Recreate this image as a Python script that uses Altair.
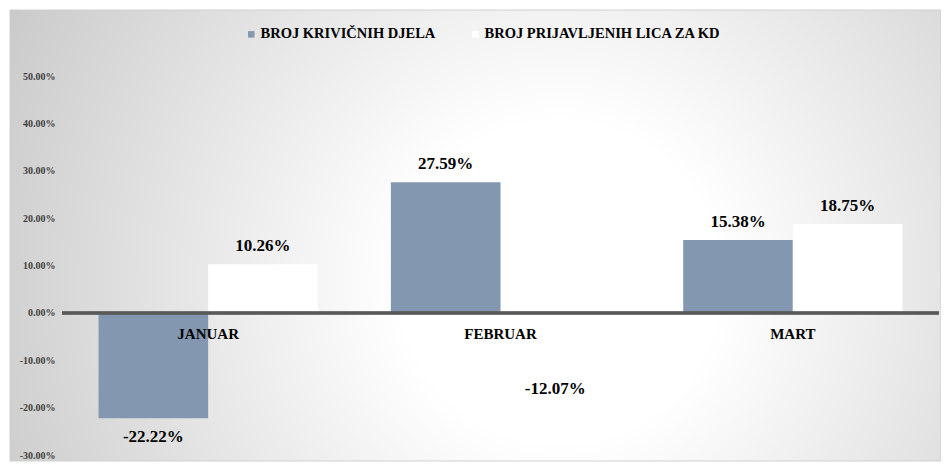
import altair as alt
import pandas as pd

months = ["JANUAR", "FEBRUAR", "MART"]
series_names = ["BROJ KRIVIČNIH DJELA", "BROJ PRIJAVLJENIH LICA ZA KD"]
krivicna_djela = [-0.2222, 0.2759, 0.1538]
prijavljeni = [0.1026, -0.1207, 0.1875]
y_ticks = [-0.3, -0.2, -0.1, 0.0, 0.1, 0.2, 0.3, 0.4, 0.5]

rows = []
for i, m in enumerate(months):
    rows.append({"mjesec": m, "serija": series_names[0], "vrijednost": krivicna_djela[i]})
    rows.append({"mjesec": m, "serija": series_names[1], "vrijednost": prijavljeni[i]})
df = pd.DataFrame(rows)

FONT = "'Liberation Serif', 'DejaVu Serif', serif"
W, H = 877, 379

x_enc = alt.X("mjesec:N", sort=months, axis=None,
              scale=alt.Scale(paddingInner=0.25, paddingOuter=0.125))
xo_enc = alt.XOffset("serija:N", sort=series_names,
                     scale=alt.Scale(domain=series_names, paddingInner=0, paddingOuter=0))
y_enc = alt.Y("vrijednost:Q",
              scale=alt.Scale(domain=[-0.3, 0.5], nice=False, zero=True),
              axis=alt.Axis(values=y_ticks, format=".2%", title=None, grid=False,
                            domain=False, ticks=False, labelPadding=7, zindex=2,
                            labelExpr="replace(datum.label, '\u2212', '-')",
                            labelFont=FONT, labelFontWeight="bold", labelFontSize=10,
                            labelColor="#404040"))

background = alt.Chart(alt.Data(values=[{}])).mark_rect(
    fill=alt.RadialGradient(
        gradient="radial",
        stops=[alt.GradientStop(offset=0, color="#ffffff"),
               alt.GradientStop(offset=0.22, color="#ffffff"),
               alt.GradientStop(offset=1, color="#bdbdbd")],
        x1=0.59, y1=0.55, r1=0, x2=0.59, y2=0.55, r2=0.78),
    stroke="#d0d0d0", strokeWidth=1,
).encode(x=alt.value(-52), x2=alt.value(W + 2), y=alt.value(-66), y2=alt.value(H + 6))

base = alt.Chart(df)

bars = base.mark_bar().encode(
    x=x_enc, xOffset=xo_enc, y=y_enc,
    color=alt.Color("serija:N", sort=series_names,
                    scale=alt.Scale(domain=series_names, range=["#8497b0", "#ffffff"]),
                    legend=alt.Legend(orient="none", legendX=182, legendY=-49,
                                      direction="horizontal", title=None,
                                      symbolType="square", symbolSize=42,
                                      symbolStrokeWidth=0, labelFont=FONT,
                                      labelFontSize=14.5, labelFontWeight="bold",
                                      labelColor="#000000", columnPadding=32,
                                      labelOffset=2, labelLimit=500, padding=0)),
)

zero_line = base.mark_rule(color="#595959", strokeWidth=2.5).encode(y=alt.datum(0))

label_calc = "replace(format(datum.vrijednost, '.2%'), '\u2212', '-')"

pos_labels = base.transform_filter("datum.vrijednost >= 0").transform_calculate(
    oznaka=label_calc
).mark_text(
    font=FONT, fontSize=17, fontWeight="bold", color="#000000", baseline="middle", dy=-18
).encode(x=x_enc, xOffset=xo_enc, y=alt.Y("vrijednost:Q"), text="oznaka:N")

neg_labels = base.transform_filter("datum.vrijednost < 0").transform_calculate(
    oznaka=label_calc
).mark_text(
    font=FONT, fontSize=17, fontWeight="bold", color="#000000", baseline="middle", dy=19
).encode(x=x_enc, xOffset=xo_enc, y=alt.Y("vrijednost:Q"), text="oznaka:N")

cat_labels = alt.Chart(pd.DataFrame({"mjesec": months})).mark_text(
    font=FONT, fontSize=15, fontWeight="bold", color="#000000", baseline="middle", dy=21
).encode(x=alt.X("mjesec:N", sort=months, axis=None,
                 scale=alt.Scale(paddingInner=0.25, paddingOuter=0.125)),
         y=alt.datum(0), text="mjesec:N")

chart = alt.layer(background, bars, zero_line, pos_labels, neg_labels, cat_labels).properties(
    width=W, height=H,
    autosize=alt.AutoSizeParams(type="none"),
    padding={"left": 54, "top": 68, "right": 2, "bottom": 7},
).configure_view(stroke=None)

chart.save("out.html", embed_options={"renderer": "svg", "actions": False})
